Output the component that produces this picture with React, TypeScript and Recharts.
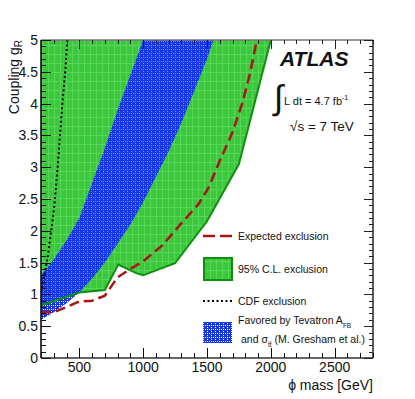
import React from 'react';
import { ComposedChart, Area, Line, XAxis, YAxis, ReferenceLine, Customized } from 'recharts';

// tick positions (minor every 100 GeV / 0.1, labels on the majors)
const massTicks = Array.from({ length: 27 }, (_, i) => 200 + i * 100);
const couplingTicks = Array.from({ length: 51 }, (_, i) => i / 10);

// 95% C.L. exclusion: lower edge, excluded up to g = 5
const excMass = [200, 500, 700, 805, 950, 1000, 1250, 1500, 1750, 2000];
const excLow = [0.83, 1.03, 1.07, 1.47, 1.33, 1.3, 1.49, 2.15, 3.05, 5.0];

// Tevatron A_FB favoured band
const favMass = [200, 300, 400, 500, 600, 700, 800, 900, 1000, 1100, 1200, 1300, 1400, 1500, 1550];
const favHigh = [1.3, 1.55, 1.85, 2.2, 2.75, 3.3, 3.9, 4.45, 5, 5, 5, 5, 5, 5, 5];
const favLow = [0.6, 0.72, 0.86, 1.03, 1.25, 1.5, 1.8, 2.1, 2.45, 2.85, 3.25, 3.7, 4.2, 4.7, 5];

// expected exclusion
const expMass = [200, 300, 400, 500, 600, 700, 800, 900, 1000, 1150, 1300, 1430, 1510, 1600, 1700, 1780, 1840, 1890];
const expG = [0.72, 0.72, 0.8, 0.89, 0.9, 0.98, 1.27, 1.4, 1.52, 1.77, 2.12, 2.41, 2.67, 3.1, 3.55, 4.03, 4.5, 5.0];

// CDF exclusion
const cdfMass = [210, 230, 250, 273, 300, 320, 340, 367, 390, 406];
const cdfG = [1.1, 1.35, 1.55, 1.9, 2.3, 2.75, 3.25, 4.0, 4.5, 5.0];

const excData = excMass.map((m, i) => ({ m, g: [excLow[i], 5], low: excLow[i] }));
const favData = favMass.map((m, i) => ({ m, g: [favLow[i], favHigh[i]] }));
const expData = expMass.map((m, i) => ({ m, g: expG[i] }));
const cdfData = cdfMass.map((m, i) => ({ m, g: cdfG[i] }));

const FONT = '"Liberation Sans", Arial, Helvetica, sans-serif';
const RED = '#aa1414';
const DKGREEN = '#0f8f0f';
const PLOT_W = 332;
const PLOT_H = 318;

const isMajorX = (v: number) => v % 500 === 0;
const isMajorY = (v: number) => Math.round(v * 10) % 5 === 0;

// bottom ticks point up into the frame, mirrored on the top edge
function MassTick({ x, y, payload }: any) {
  const v = payload.value;
  const len = isMajorX(v) ? 10 : 5;
  const px = Math.round(x) + 0.5;
  return (
    <g shapeRendering="crispEdges">
      <line x1={px} x2={px} y1={y} y2={y - len} stroke="#111" />
      <line x1={px} x2={px} y1={y - PLOT_H} y2={y - PLOT_H + len - 1} stroke="#222" />
      {isMajorX(v) && v > 200 && v < 2800 && (
        <text x={x} y={y + 14} textAnchor="middle" fontSize={14} fill="#111" fontFamily={FONT}>{v}</text>
      )}
    </g>
  );
}

// left ticks point right into the frame, mirrored on the right edge
function CouplingTick({ x, y, payload }: any) {
  const v = payload.value;
  const len = isMajorY(v) ? 10 : 5;
  const py = Math.round(y) + 0.5;
  return (
    <g shapeRendering="crispEdges">
      <line x1={x} x2={x + len} y1={py} y2={py} stroke="#111" />
      <line x1={x + PLOT_W} x2={x + PLOT_W - len + 1} y1={py} y2={py} stroke="#222" />
      {isMajorY(v) && (
        <text x={x - 3} y={y + 5} textAnchor="end" fontSize={14} fill="#111" fontFamily={FONT}>
          {Math.round(v * 10) / 10}
        </text>
      )}
    </g>
  );
}

function Annotations() {
  return (
    <g fontFamily={FONT} fill="#111">
      <text x={280} y={66} fontSize={21} fontWeight="bold" fontStyle="italic">ATLAS</text>
      <text x={274} y={109} fontSize={34}>∫</text>
      <text x={284} y={105} fontSize={11}>
        L dt = 4.7 fb<tspan dy={-5} fontSize={7}>-1</tspan>
      </text>
      <text x={290} y={131} fontSize={13.5}>√s = 7 TeV</text>

      <text transform="translate(19,40) rotate(-90)" textAnchor="end" fontSize={14}>
        Coupling g<tspan dy={3} fontSize={10}>R</tspan>
      </text>
      <text x={373} y={390} textAnchor="end" fontSize={14}>ϕ mass [GeV]</text>

      {/* legend */}
      <line x1={203} x2={232} y1={236} y2={236} stroke={RED} strokeWidth={2.5} strokeDasharray="12 5" />
      <text x={238} y={240} fontSize={10.5}>Expected exclusion</text>
      <rect x={204} y={258} width={28} height={22} fill="url(#greenPat)" stroke={DKGREEN} strokeWidth={2} />
      <text x={238} y={273} fontSize={10.5}>95% C.L. exclusion</text>
      <line x1={203} x2={232} y1={301} y2={301} stroke="#000" strokeWidth={2} strokeDasharray="2 2.5" />
      <text x={238} y={305} fontSize={10.5}>CDF exclusion</text>
      <rect x={203} y={322} width={29} height={21} fill="url(#bluePat)" />
      <text x={238} y={324} fontSize={10.5}>
        Favored by Tevatron A<tspan dy={4} fontSize={6.5}>FB</tspan>
      </text>
      <text x={241} y={343} fontSize={10.5}>
        and σ<tspan dy={4} fontSize={6.5}>tt̄</tspan>
        <tspan dy={-4}> (M. Gresham et al.)</tspan>
      </text>
    </g>
  );
}

export default function App() {
  return (
    <div style={{ position: 'absolute', left: 0, top: 0, width: 415, height: 399, background: '#fff', fontFamily: FONT }}>
      <ComposedChart width={415} height={399} margin={{ top: 40, right: 42, bottom: 11, left: 1 }}>
        <defs>
          <pattern id="greenPat" width="6" height="9" patternUnits="userSpaceOnUse">
            <rect width="6" height="9" fill="#3cc83c" />
            <rect width="6" height="1" fill="#58d658" />
            <rect width="1" height="9" fill="#58d658" />
          </pattern>
          <pattern id="bluePat" width="4" height="4" patternUnits="userSpaceOnUse">
            <path
              d="M0 0h4v4h-4z M1 1h1v1h-1z M3 3h1v1h-1z M3 1h1v1h-1z"
              fill="#1636ec"
              fillRule="evenodd"
            />
          </pattern>
        </defs>
        <Area
          data={excData}
          dataKey="g"
          type="linear"
          fill="url(#greenPat)"
          fillOpacity={1}
          stroke="none"
          dot={false}
          activeDot={false}
          isAnimationActive={false}
        />
        <Line
          data={excData}
          dataKey="low"
          type="linear"
          stroke={DKGREEN}
          strokeWidth={2}
          dot={false}
          activeDot={false}
          isAnimationActive={false}
        />
        <Area
          data={favData}
          dataKey="g"
          type="linear"
          fill="url(#bluePat)"
          fillOpacity={1}
          stroke="none"
          dot={false}
          activeDot={false}
          isAnimationActive={false}
        />
        <Line
          data={expData}
          dataKey="g"
          type="linear"
          stroke={RED}
          strokeWidth={2.5}
          strokeDasharray="10 5"
          dot={false}
          activeDot={false}
          isAnimationActive={false}
        />
        <Line
          data={cdfData}
          dataKey="g"
          type="linear"
          stroke="#000"
          strokeWidth={2}
          strokeDasharray="2 2.5"
          dot={false}
          activeDot={false}
          isAnimationActive={false}
        />
        <ReferenceLine x={2800} stroke="#222" strokeWidth={1.5} ifOverflow="visible" />
        <ReferenceLine y={5} stroke="#777" strokeWidth={1.5} ifOverflow="visible" />
        <XAxis
          dataKey="m"
          type="number"
          domain={[200, 2800]}
          ticks={massTicks}
          interval={0}
          tickSize={0}
          tickMargin={0}
          tickLine={false}
          height={30}
          axisLine={{ stroke: '#333', strokeWidth: 1.5 }}
          tick={MassTick}
          allowDataOverflow
        />
        <YAxis
          type="number"
          domain={[0, 5]}
          ticks={couplingTicks}
          interval={0}
          tickSize={0}
          tickMargin={0}
          tickLine={false}
          width={40}
          axisLine={{ stroke: '#000', strokeWidth: 1.5 }}
          tick={CouplingTick}
          allowDataOverflow
        />
        <Customized component={Annotations} />
      </ComposedChart>
    </div>
  );
}
